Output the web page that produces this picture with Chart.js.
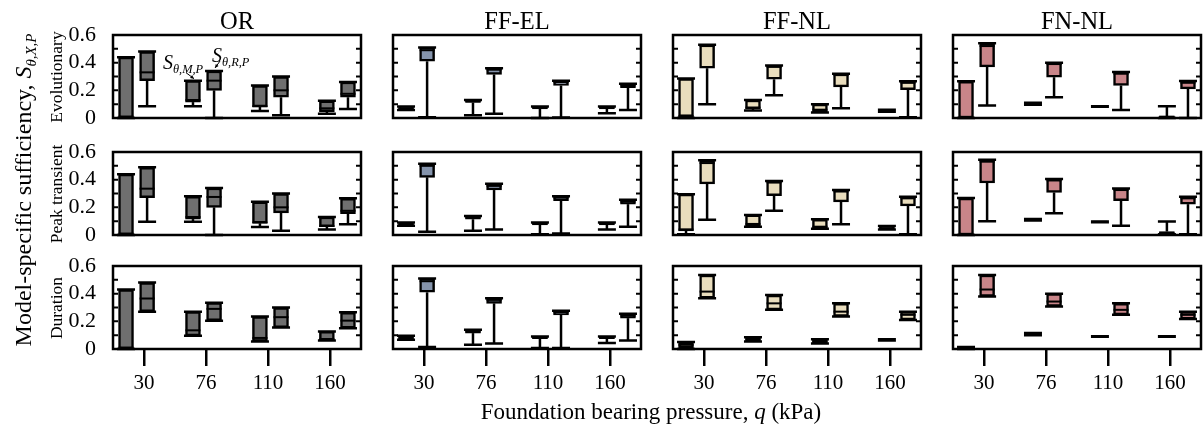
<!DOCTYPE html>
<html><head><meta charset="utf-8">
<script src="https://cdn.jsdelivr.net/npm/chart.js@4.4.0/dist/chart.umd.min.js"></script>
<style>
body{margin:0;background:#fff;}
#wrap{position:relative;width:1203px;height:430px;overflow:hidden;background:#fff;font-family:"Liberation Serif","Times New Roman",serif;color:#000;}
canvas{position:absolute;}
.t{position:absolute;white-space:nowrap;line-height:1;}
.rot{position:absolute;white-space:nowrap;line-height:1;transform:translate(-50%,-50%) rotate(-90deg);}
.sub{font-size:0.62em;vertical-align:-0.3em;}
</style></head><body><div id="wrap"></div>
<script>
// ---- categories and labels ----
const pressures = ['30', '76', '110', '160'];
const models = ['OR', 'FF-EL', 'FF-NL', 'FN-NL'];
const metrics = ['Evolutionary', 'Peak transient', 'Duration'];
const yTickLabels = ['0', '0.2', '0.4', '0.6'];

// ---- box statistics [min, q1, median, q3, max]
// order: 30 M, 30 R, 76 M, 76 R, 110 M, 110 R, 160 M, 160 R ----
const OR_evolutionary = [[0,0,0.01,0.44,0.44],[0.085,0.27,0.33,0.48,0.48],[0.085,0.115,0.13,0.27,0.27],[0,0.2,0.27,0.34,0.34],[0.05,0.08,0.085,0.235,0.235],[0.02,0.15,0.2,0.3,0.3],[0.03,0.045,0.07,0.125,0.125],[0.065,0.15,0.175,0.26,0.26]];
const OR_peak = [[0,0,0.01,0.44,0.44],[0.095,0.27,0.335,0.49,0.49],[0.095,0.115,0.13,0.28,0.28],[0,0.2,0.275,0.34,0.34],[0.058,0.085,0.09,0.24,0.24],[0.03,0.16,0.2,0.3,0.3],[0.04,0.06,0.065,0.13,0.13],[0.078,0.155,0.175,0.265,0.265]];
const OR_duration = [[0,0,0.01,0.43,0.43],[0.27,0.27,0.365,0.48,0.48],[0.095,0.095,0.135,0.27,0.27],[0.205,0.205,0.29,0.335,0.335],[0.055,0.055,0.08,0.235,0.235],[0.155,0.155,0.23,0.3,0.3],[0.062,0.062,0.072,0.127,0.127],[0.15,0.15,0.205,0.265,0.265]];

const FFEL_evolutionary = [[0.058,0.06,0.07,0.083,0.083],[0.005,0.41,0.49,0.51,0.51],[0.02,0.112,0.12,0.13,0.13],[0.03,0.315,0.35,0.36,0.36],[0,0.065,0.075,0.083,0.083],[0.003,0.235,0.26,0.27,0.27],[0.034,0.066,0.075,0.083,0.083],[0.058,0.22,0.235,0.248,0.248]];
const FFEL_peak = [[0.066,0.066,0.075,0.09,0.09],[0.024,0.417,0.5,0.515,0.515],[0.03,0.114,0.125,0.138,0.138],[0.04,0.325,0.355,0.37,0.37],[0.005,0.073,0.08,0.09,0.09],[0.01,0.248,0.27,0.28,0.28],[0.04,0.073,0.08,0.09,0.09],[0.06,0.223,0.24,0.255,0.255]];
const FFEL_duration = [[0.067,0.067,0.08,0.096,0.096],[0.014,0.41,0.49,0.51,0.51],[0.03,0.115,0.125,0.139,0.139],[0.04,0.33,0.355,0.367,0.367],[0.007,0.074,0.08,0.091,0.091],[0.007,0.247,0.265,0.276,0.276],[0.043,0.074,0.08,0.091,0.091],[0.062,0.223,0.24,0.254,0.254]];

const FFNL_evolutionary = [[0,0.01,0.015,0.285,0.285],[0.1,0.36,0.52,0.53,0.53],[0.055,0.065,0.075,0.13,0.13],[0.165,0.28,0.37,0.38,0.38],[0.04,0.045,0.06,0.1,0.1],[0.07,0.225,0.31,0.32,0.32],[0.045,0.045,0.05,0.06,0.06],[0.005,0.205,0.255,0.265,0.265]];
const FFNL_peak = [[0.005,0.03,0.04,0.295,0.295],[0.11,0.37,0.52,0.54,0.54],[0.06,0.066,0.08,0.145,0.145],[0.175,0.285,0.38,0.39,0.39],[0.045,0.05,0.06,0.113,0.113],[0.078,0.24,0.315,0.325,0.325],[0.04,0.04,0.05,0.065,0.065],[0.005,0.21,0.265,0.277,0.277]];
const FFNL_duration = [[0,0.01,0.03,0.045,0.05],[0.367,0.367,0.415,0.535,0.535],[0.055,0.06,0.07,0.08,0.085],[0.283,0.283,0.33,0.39,0.39],[0.04,0.045,0.055,0.065,0.07],[0.235,0.235,0.27,0.33,0.33],[0.062,0.062,0.066,0.07,0.07],[0.21,0.21,0.247,0.27,0.27]];

const FNNL_evolutionary = [[0,0,0.005,0.265,0.265],[0.09,0.37,0.52,0.54,0.54],[0.095,0.097,0.102,0.108,0.11],[0.15,0.295,0.39,0.4,0.4],[0.081,0.081,0.083,0.085,0.085],[0.058,0.235,0.32,0.333,0.333],[0,0.003,0.008,0.015,0.085],[0,0.21,0.255,0.267,0.267]];
const FNNL_peak = [[0,0,0.005,0.267,0.267],[0.1,0.376,0.53,0.544,0.544],[0.105,0.106,0.11,0.114,0.115],[0.158,0.308,0.395,0.405,0.405],[0.093,0.093,0.095,0.097,0.097],[0.066,0.248,0.325,0.337,0.337],[0.005,0.008,0.015,0.025,0.097],[0.005,0.223,0.265,0.277,0.277]];
const FNNL_duration = [[0,0,0.005,0.014,0.014],[0.38,0.38,0.43,0.535,0.535],[0.1,0.102,0.108,0.113,0.115],[0.307,0.307,0.343,0.4,0.4],[0.089,0.089,0.09,0.092,0.092],[0.247,0.247,0.283,0.33,0.33],[0.089,0.089,0.09,0.092,0.092],[0.216,0.216,0.247,0.27,0.27]];

const PANELS = [
  [OR_evolutionary, FFEL_evolutionary, FFNL_evolutionary, FNNL_evolutionary],
  [OR_peak, FFEL_peak, FFNL_peak, FNNL_peak],
  [OR_duration, FFEL_duration, FFNL_duration, FNNL_duration]
];

// ---- layout / style ----
const PANEL_LEFT = [113, 393, 673, 953], PANEL_TOP = [35, 152, 266], PW = 248, PH = 83;
const LM = 64, BM = 52, PAD = 4, PAD_T = 16;
const COLORS = ['#6f6f6f', '#8594ac', '#e9ddbd', '#c98589'];
const FONT = 'Liberation Serif';
function boxPos(k) { const i = Math.floor(k / 2); return (k % 2 ? 0.55 : 0.21) + 1.08 * i; }

const boxPlugin = {
  id: 'boxes',
  afterDatasetsDraw(chart, args, opts) {
    const {ctx, chartArea: a, scales: {x, y}} = chart;
    ctx.save();
    ctx.strokeStyle = '#000';
    opts.stats.forEach((s, k) => {
      const px = x.getPixelForValue(boxPos(k));
      const [mn, q1, md, q3, mx] = s.map(v => y.getPixelForValue(v));
      ctx.lineWidth = 2.5;
      ctx.beginPath();
      ctx.moveTo(px, mn); ctx.lineTo(px, q1);
      ctx.moveTo(px, q3); ctx.lineTo(px, mx);
      ctx.stroke();
      ctx.lineWidth = 2;
      ctx.beginPath(); ctx.moveTo(px - 7.5, md); ctx.lineTo(px + 7.5, md); ctx.stroke();
      ctx.lineWidth = 2.5;
      ctx.beginPath();
      ctx.moveTo(px - 9, mn); ctx.lineTo(px + 9, mn);
      ctx.moveTo(px - 9, mx); ctx.lineTo(px + 9, mx);
      ctx.stroke();
    });
    ctx.lineWidth = 2;
    for (let v = 1; v <= 5; v++) {
      const py = y.getPixelForValue(v / 10);
      ctx.beginPath();
      ctx.moveTo(a.left, py); ctx.lineTo(a.left + 5, py);
      ctx.moveTo(a.right, py); ctx.lineTo(a.right - 5, py);
      ctx.stroke();
    }
    ctx.lineWidth = 2.5;
    ctx.strokeRect(a.left, a.top, a.width, a.height);
    if (opts.arrows) {
      const arrow = (x0, y0, x1, y1) => {
        ctx.lineWidth = 1;
        ctx.beginPath(); ctx.moveTo(x0, y0); ctx.lineTo(x1, y1); ctx.stroke();
        const ang = Math.atan2(y1 - y0, x1 - x0);
        ctx.beginPath();
        ctx.moveTo(x1, y1);
        ctx.lineTo(x1 - 4 * Math.cos(ang - 0.45), y1 - 4 * Math.sin(ang - 0.45));
        ctx.lineTo(x1 - 4 * Math.cos(ang + 0.45), y1 - 4 * Math.sin(ang + 0.45));
        ctx.closePath(); ctx.fillStyle = '#000'; ctx.fill();
      };
      const s2 = opts.stats[2], s3 = opts.stats[3];
      const xm = x.getPixelForValue(boxPos(2)), ym = y.getPixelForValue(s2[4]);
      arrow(xm - 7, ym - 8, xm + 1, ym - 2);
      const xr = x.getPixelForValue(boxPos(3)), yr = y.getPixelForValue(s3[4]);
      arrow(xr + 6, yr - 10, xr + 1, yr - 3);
    }
    ctx.restore();
  }
};

const wrap = document.getElementById('wrap');
for (let r = 0; r < 3; r++) {
  for (let c = 0; c < 4; c++) {
    const cv = document.createElement('canvas');
    cv.width = PW + LM + 2 * PAD; cv.height = PH + BM + PAD + PAD_T;
    cv.style.left = (PANEL_LEFT[c] - LM - PAD) + 'px';
    cv.style.top = (PANEL_TOP[r] - PAD_T) + 'px';
    wrap.appendChild(cv);
    const stats = PANELS[r][c];
    new Chart(cv, {
      type: 'bar',
      data: {
        datasets: [{
          data: stats.map((s, k) => ({x: boxPos(k), y: [s[1], s[3]]})),
          backgroundColor: COLORS[c], borderColor: '#000', borderWidth: 2.5,
          borderSkipped: false, barThickness: 15, grouped: false
        }]
      },
      options: {
        responsive: false, animation: false, devicePixelRatio: 1,
        layout: {padding: {left: PAD, right: PAD, top: PAD_T, bottom: PAD}},
        events: [],
        plugins: {legend: {display: false}, tooltip: {enabled: false},
          boxes: {stats: stats, arrows: r === 0 && c === 0}},
        scales: {
          x: {
            type: 'linear', min: 0, max: 4, offset: false,
            afterBuildTicks(s) { s.ticks = pressures.map((p, i) => ({value: i + 0.5})); },
            afterFit(s) { s.height = BM; s.paddingLeft = 0; s.paddingRight = 0; },
            ticks: {display: r === 2, callback: (v, i) => pressures[i], font: {family: FONT, size: 21},
              color: '#000', padding: 5, maxRotation: 0, autoSkip: false},
            grid: {display: r === 2, drawOnChartArea: false, drawTicks: true, tickLength: 17,
              lineWidth: 2.5, color: '#000', offset: false},
            border: {display: false}
          },
          y: {
            min: 0, max: 0.6,
            afterBuildTicks(s) { s.ticks = [0, 0.2, 0.4, 0.6].map(v => ({value: v})); },
            afterFit(s) { s.width = LM; s.paddingTop = 0; s.paddingBottom = 0; },
            ticks: {display: c === 0, callback: (v, i) => yTickLabels[i], font: {family: FONT, size: 22},
              color: '#000', padding: 9, autoSkip: false},
            grid: {display: false}, border: {display: false}
          }
        }
      },
      plugins: [boxPlugin]
    });
  }
}

// ---- text ----
function addText(html, cls, css) {
  const d = document.createElement('div');
  d.className = cls; d.innerHTML = html;
  Object.assign(d.style, css);
  wrap.appendChild(d);
}
models.forEach((m, c) => addText(m, 't', {left: PANEL_LEFT[c] + 'px', top: '9px', width: PW + 'px',
  textAlign: 'center', fontSize: '24.5px'}));
metrics.forEach((m, r) => addText(m, 'rot', {left: '57px', top: (PANEL_TOP[r] + PH / 2) + 'px', fontSize: '17.5px'}));
addText('Model-specific sufficiency, <i>S</i><span class="sub"><i>θ,X,P</i></span>', 'rot',
  {left: '25px', top: '190px', fontSize: '24px'});
addText('Foundation bearing pressure, <i>q</i> (kPa)', 't',
  {left: '651px', top: '400px', fontSize: '23px', transform: 'translateX(-50%)'});
addText('<i>S</i><span class="sub"><i>θ,M,P</i></span>', 't', {left: '163px', top: '52px', fontSize: '20px'});
addText('<i>S</i><span class="sub"><i>θ,R,P</i></span>', 't', {left: '212px', top: '45px', fontSize: '20px'});
</script></body></html>
